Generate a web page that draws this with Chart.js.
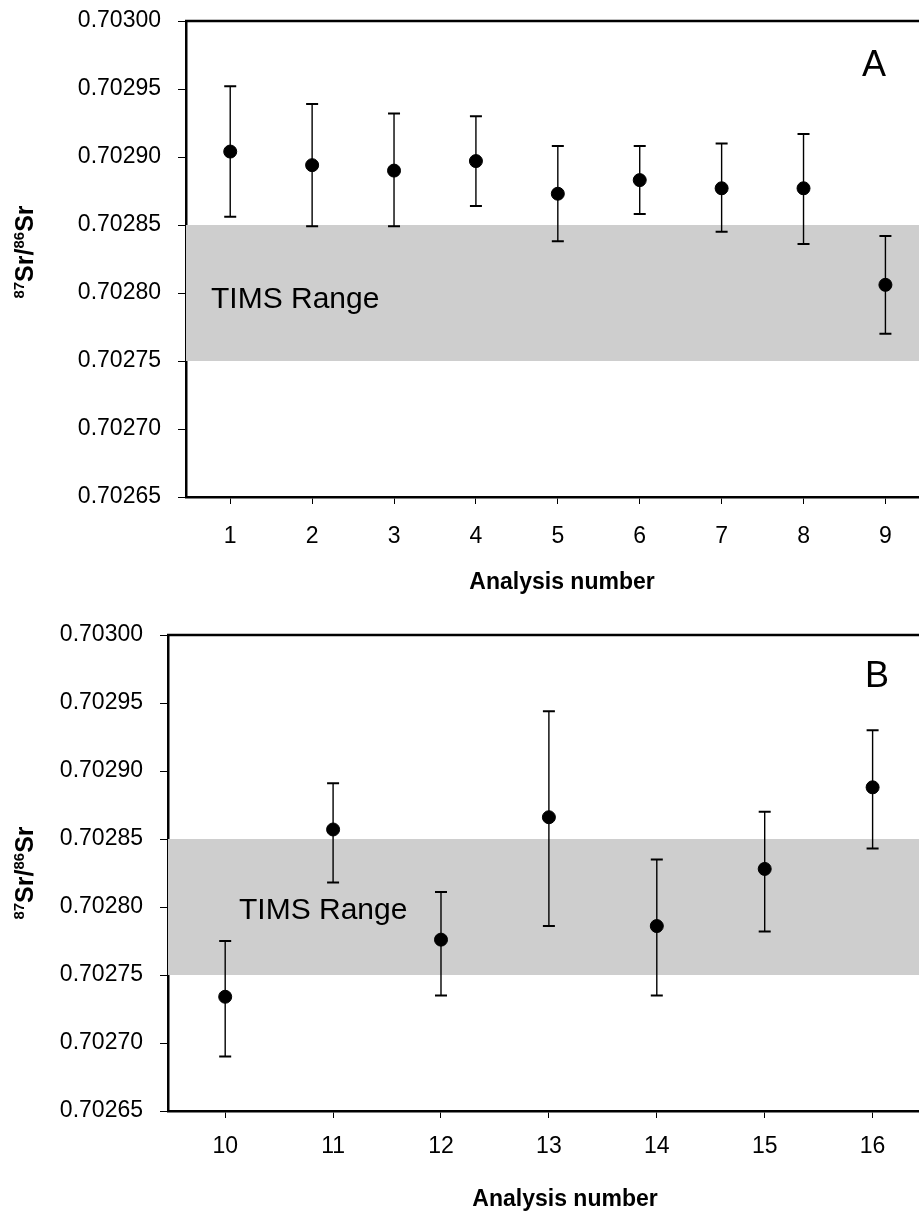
<!DOCTYPE html>
<html>
<head>
<meta charset="utf-8">
<script src="https://cdn.jsdelivr.net/npm/chart.js@4/dist/chart.umd.min.js"></script>
<style>
  body { margin: 0; background: #fff; }
  #wrap { position: relative; width: 919px; height: 1214px; overflow: hidden; }
  canvas { position: absolute; left: 0; }
  #chartA { top: 0; }
  #chartB { top: 600px; }
</style>
</head>
<body>
<div id="wrap">
  <canvas id="chartA" width="919" height="600"></canvas>
  <canvas id="chartB" width="919" height="614"></canvas>
</div>
<script>
// panel A, analyses 1-9
const analysisA = [1, 2, 3, 4, 5, 6, 7, 8, 9];
const ratioA = [0.702904, 0.702894, 0.702890, 0.702897, 0.702873, 0.702883, 0.702877, 0.702877, 0.702806];
const upperA = [0.702952, 0.702939, 0.702932, 0.702930, 0.702908, 0.702908, 0.702910, 0.702917, 0.702842];
const lowerA = [0.702856, 0.702849, 0.702849, 0.702864, 0.702838, 0.702858, 0.702845, 0.702836, 0.702770];

// panel B, analyses 10-16
const analysisB = [10, 11, 12, 13, 14, 15, 16];
const ratioB = [0.702734, 0.702857, 0.702776, 0.702866, 0.702786, 0.702828, 0.702888];
const upperB = [0.702775, 0.702891, 0.702811, 0.702944, 0.702835, 0.702870, 0.702930];
const lowerB = [0.702690, 0.702818, 0.702735, 0.702786, 0.702735, 0.702782, 0.702843];

const yTicks = [0.70265, 0.70270, 0.70275, 0.70280, 0.70285, 0.70290, 0.70295, 0.70300];
const timsRange = [0.70275, 0.70285];
const timsLabel = "TIMS Range";

const FONT = "'Liberation Sans', Arial, sans-serif";

function makePanel(id, cfg) {
  const decor = {
    id: "decor",
    beforeDatasetsDraw(chart) {
      const ctx = chart.ctx, a = chart.chartArea;
      const x = chart.scales.x, y = chart.scales.y;
      // TIMS band
      const yTop = y.getPixelForValue(timsRange[1]);
      const yBot = y.getPixelForValue(timsRange[0]);
      ctx.save();
      ctx.fillStyle = "#cecece";
      ctx.fillRect(a.left, yTop, a.right - a.left, yBot - yTop);
      ctx.fillStyle = "#000";
      ctx.font = "30px " + FONT;
      ctx.textBaseline = "alphabetic";
      ctx.fillText(timsLabel, a.left + cfg.timsDx, y.getPixelForValue(cfg.timsY));
      // error bars
      ctx.strokeStyle = "#000";
      cfg.xs.forEach((v, i) => {
        const px = x.getPixelForValue(v);
        const pHi = y.getPixelForValue(cfg.hi[i]);
        const pLo = y.getPixelForValue(cfg.lo[i]);
        ctx.lineWidth = 1.4;
        ctx.beginPath();
        ctx.moveTo(px, pHi); ctx.lineTo(px, pLo);
        ctx.stroke();
        ctx.lineWidth = 2;
        ctx.beginPath();
        ctx.moveTo(px - 6, pHi); ctx.lineTo(px + 6, pHi);
        ctx.moveTo(px - 6, pLo); ctx.lineTo(px + 6, pLo);
        ctx.stroke();
      });
      ctx.restore();
    },
    afterDraw(chart) {
      const ctx = chart.ctx, a = chart.chartArea;
      ctx.save();
      // top frame line
      ctx.strokeStyle = "#000";
      ctx.lineWidth = 2.5;
      ctx.beginPath();
      ctx.moveTo(a.left - 1, a.top); ctx.lineTo(a.right, a.top);
      ctx.stroke();
      // panel letter
      ctx.fillStyle = "#000";
      ctx.font = "36px " + FONT;
      ctx.fillText(cfg.letter, cfg.letterX, a.top + cfg.letterDy);
      // x title
      ctx.font = "bold 23px " + FONT;
      ctx.textAlign = "center";
      ctx.textBaseline = "middle";
      ctx.fillText("Analysis number", cfg.titleX, a.bottom + cfg.titleDy);
      // y title with superscripts, rotated
      const parts = [["87", "bold 15px ", -9], ["Sr/", "bold 25px ", 0], ["86", "bold 15px ", -9], ["Sr", "bold 25px ", 0]];
      let total = 0;
      parts.forEach(p => { ctx.font = p[1] + FONT; total += ctx.measureText(p[0]).width; });
      ctx.translate(33, cfg.yTitleMid);
      ctx.rotate(-Math.PI / 2);
      ctx.textAlign = "left";
      ctx.textBaseline = "alphabetic";
      let cx = -total / 2;
      parts.forEach(p => {
        ctx.font = p[1] + FONT;
        ctx.fillText(p[0], cx, p[2]);
        cx += ctx.measureText(p[0]).width;
      });
      ctx.restore();
    }
  };

  return new Chart(document.getElementById(id), {
    type: "scatter",
    data: {
      datasets: [{
        data: cfg.xs.map((v, i) => ({ x: v, y: cfg.ys[i] })),
        backgroundColor: "#000",
        borderColor: "#000",
        pointRadius: 6.5,
        pointHoverRadius: 6.5
      }]
    },
    options: {
      responsive: false,
      animation: false,
      layout: { autoPadding: false, padding: { top: cfg.areaTop, right: 0, left: 0, bottom: 0 } },
      plugins: { legend: { display: false }, tooltip: { enabled: false } },
      scales: {
        x: {
          type: "linear",
          min: cfg.xMin,
          max: cfg.xMax,
          afterBuildTicks: s => { s.ticks = cfg.xs.map(v => ({ value: v })); },
          afterFit: s => { s.height = 103; s.paddingLeft = 0; s.paddingRight = 0; },
          grid: { display: true, drawOnChartArea: false, tickLength: 7, tickColor: "#000", lineWidth: 1 },
          border: { display: true, color: "#000", width: 2.5 },
          ticks: { color: "#000", font: { family: FONT, size: 23 }, padding: cfg.xPad, maxRotation: 0, callback: v => String(v) }
        },
        y: {
          type: "linear",
          min: yTicks[0],
          max: yTicks[yTicks.length - 1],
          afterBuildTicks: s => { s.ticks = yTicks.map(v => ({ value: v })); },
          afterFit: s => { s.width = cfg.axisLeft; s.paddingTop = 0; s.paddingBottom = 0; },
          grid: { display: true, drawOnChartArea: false, tickLength: 8, tickColor: "#000", lineWidth: 1 },
          border: { display: true, color: "#000", width: 2.5 },
          ticks: { color: "#000", font: { family: FONT, size: 23 }, padding: 17, callback: v => v.toFixed(5) }
        }
      }
    },
    plugins: [decor]
  });
}

makePanel("chartA", {
  xs: analysisA, ys: ratioA, hi: upperA, lo: lowerA,
  xMin: 0.46, xMax: 9.41, axisLeft: 186, areaTop: 21, xPad: 19,
  timsDx: 25, timsY: 0.702789, letter: "A", letterX: 862, letterDy: 55,
  titleX: 562, titleDy: 86, yTitleMid: 252
});

makePanel("chartB", {
  xs: analysisB, ys: ratioB, hi: upperB, lo: lowerB,
  xMin: 9.47, xMax: 16.43, axisLeft: 168, areaTop: 35, xPad: 15,
  timsDx: 71, timsY: 0.702791, letter: "B", letterX: 865, letterDy: 52,
  titleX: 565, titleDy: 89, yTitleMid: 273
});
</script>
</body>
</html>
